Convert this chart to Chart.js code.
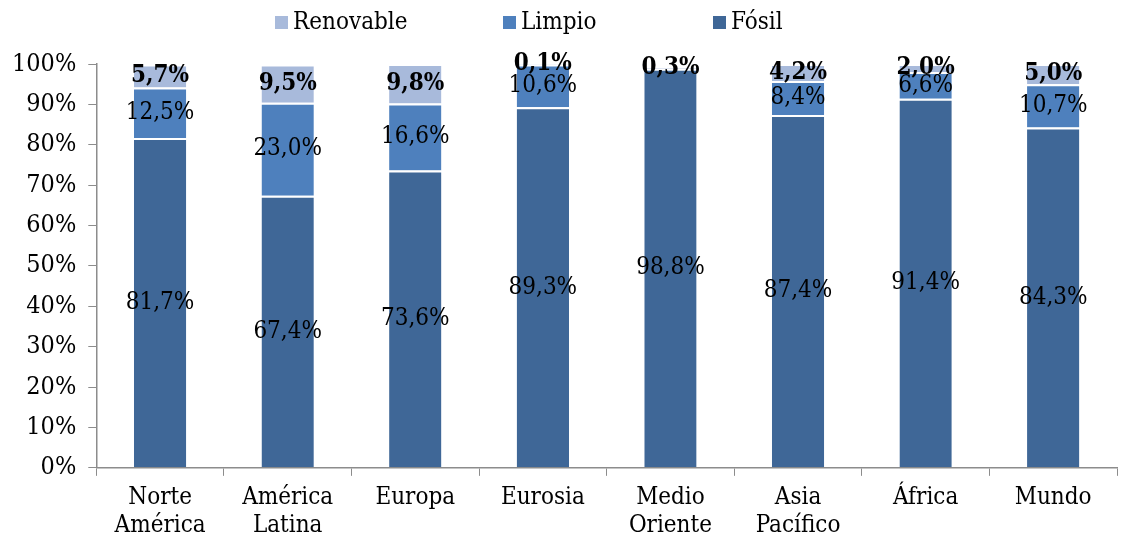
<!DOCTYPE html>
<html>
<head>
<meta charset="utf-8">
<script src="https://cdn.jsdelivr.net/npm/chart.js@4/dist/chart.umd.min.js"></script>
<style>
  html, body { margin: 0; padding: 0; background: #fff; }
  #wrap { width: 1131px; height: 537px; }
</style>
</head>
<body>
<div id="wrap"><canvas id="energyChart"></canvas></div>
<script>
// Data
const regions = [['Norte', 'América'], ['América', 'Latina'], 'Europa', 'Eurosia', ['Medio', 'Oriente'], ['Asia', 'Pacífico'], 'África', 'Mundo'];
const fosil = [81.7, 67.4, 73.6, 89.3, 98.8, 87.4, 91.4, 84.3];
const limpio = [12.5, 23.0, 16.6, 10.6, null, 8.4, 6.6, 10.7];
const renovable = [5.7, 9.5, 9.8, 0.1, 0.3, 4.2, 2.0, 5.0];
const yTicks = [0, 10, 20, 30, 40, 50, 60, 70, 80, 90, 100];

const FONT = "'DejaVu Serif Condensed', 'Liberation Serif', serif";

function fmt(v) {
    return v.toFixed(1).replace('.', ',') + '%';
}

// draws the value in the middle of each segment
const segmentLabels = {
    id: 'segmentLabels',
    afterDatasetsDraw(chart) {
        const ctx = chart.ctx;
        ctx.save();
        ctx.textAlign = 'center';
        ctx.textBaseline = 'middle';
        ctx.fillStyle = '#000';
        chart.data.datasets.forEach((ds, i) => {
            const meta = chart.getDatasetMeta(i);
            ctx.font = (ds.boldLabels ? 'bold ' : '') + '24px ' + FONT;
            meta.data.forEach((bar, j) => {
                const v = ds.data[j];
                if (v == null) return;
                const p = bar.getProps(['x', 'y', 'base'], true);
                ctx.fillText(fmt(v), p.x, (p.y + p.base) / 2);
            });
        });
        ctx.restore();
    }
};

// legend with wide gaps, drawn by hand (Chart.js padding would also push it down)
const wideLegend = {
    id: 'wideLegend',
    afterDraw(chart) {
        const ctx = chart.ctx;
        const slots = [275, 503, 713];
        const items = chart.data.datasets.slice().reverse();
        ctx.save();
        ctx.font = '24px ' + FONT;
        ctx.textBaseline = 'middle';
        ctx.textAlign = 'left';
        items.forEach((ds, i) => {
            ctx.fillStyle = ds.backgroundColor;
            ctx.fillRect(slots[i], 16, 13, 13);
            ctx.fillStyle = '#000';
            ctx.fillText(ds.label, slots[i] + 18, 23);
        });
        ctx.restore();
    }
};

const barStyle = {
    barPercentage: 0.41,
    categoryPercentage: 1,
    borderColor: '#ffffff',
    borderWidth: { top: 2, bottom: 0, left: 0, right: 0 },
    borderSkipped: false
};

new Chart(document.getElementById('energyChart'), {
    type: 'bar',
    data: {
        labels: regions,
        datasets: [
            Object.assign({ label: 'Fósil', data: fosil, backgroundColor: '#3F6797' }, barStyle),
            Object.assign({ label: 'Limpio', data: limpio, backgroundColor: '#4E80BD' }, barStyle),
            Object.assign({ label: 'Renovable', data: renovable, backgroundColor: '#A8BADB', boldLabels: true }, barStyle)
        ]
    },
    options: {
        responsive: true,
        maintainAspectRatio: false,
        animation: false,
        layout: { padding: { top: 64, right: 14, bottom: -11, left: 0 } },
        plugins: {
            tooltip: { enabled: false },
            legend: { display: false }
        },
        scales: {
            x: {
                stacked: true,
                grid: { drawOnChartArea: false, drawTicks: true, tickLength: 8, color: '#8c8c8c', offset: true },
                border: { color: '#8c8c8c', width: 1.5 },
                ticks: { color: '#000', maxRotation: 0, padding: 8, font: { family: FONT, size: 24, lineHeight: 1.17 } }
            },
            y: {
                stacked: true,
                min: 0,
                max: 100,
                afterBuildTicks(axis) {
                    axis.ticks = yTicks.map(v => ({ value: v }));
                },
                grid: { drawOnChartArea: false, drawTicks: true, tickLength: 8, color: '#8c8c8c' },
                border: { color: '#8c8c8c', width: 1.5 },
                ticks: {
                    color: '#000',
                    padding: 12,
                    font: { family: FONT, size: 25 },
                    callback: v => v + '%'
                }
            }
        }
    },
    plugins: [segmentLabels, wideLegend]
});
</script>
</body>
</html>
